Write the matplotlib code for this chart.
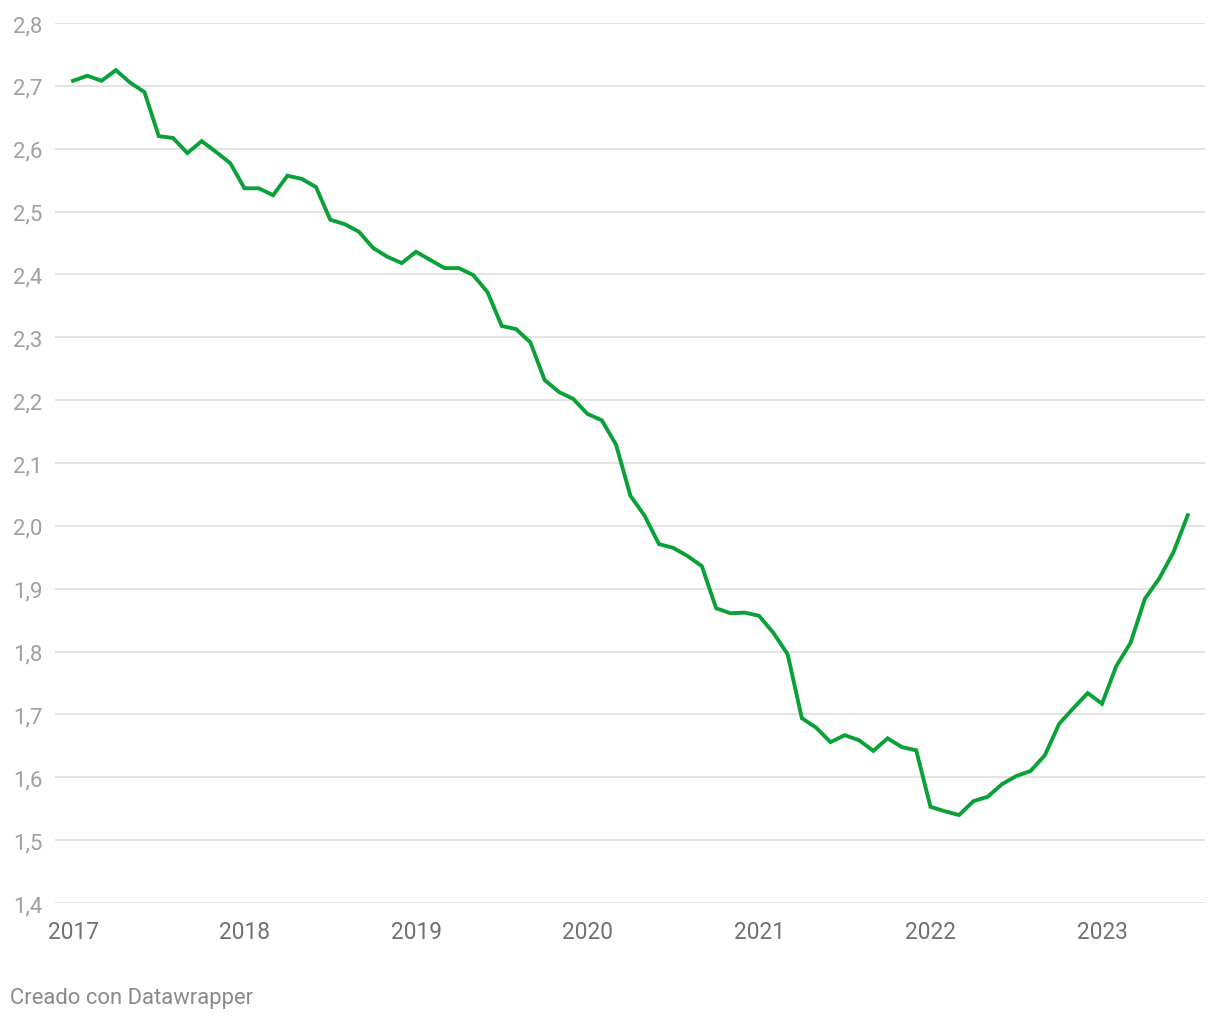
import numpy as np
import matplotlib
matplotlib.use('Agg')
import matplotlib.pyplot as plt
from matplotlib.ticker import FuncFormatter

matplotlib.rcParams['font.family'] = ['Roboto', 'DejaVu Sans']

# Monthly values, Jan 2017 .. Jul 2023
start_year = 2017
values = [
    2.708, 2.716, 2.708, 2.725, 2.705, 2.690, 2.620, 2.617, 2.593, 2.612, 2.595, 2.577,  # 2017
    2.537, 2.537, 2.526, 2.557, 2.552, 2.539, 2.487, 2.480, 2.468, 2.442, 2.428, 2.418,  # 2018
    2.436, 2.423, 2.410, 2.410, 2.399, 2.372, 2.318, 2.313, 2.292, 2.232, 2.213, 2.202,  # 2019
    2.178, 2.168, 2.129, 2.048, 2.016, 1.971, 1.965, 1.952, 1.936, 1.869, 1.861, 1.862,  # 2020
    1.857, 1.830, 1.796, 1.694, 1.679, 1.656, 1.667, 1.659, 1.642, 1.662, 1.648, 1.643,  # 2021
    1.553, 1.546, 1.540, 1.562, 1.569, 1.589, 1.602, 1.610, 1.635, 1.685, 1.710, 1.734,  # 2022
    1.717, 1.777, 1.814, 1.884, 1.916, 1.958, 2.017,                                      # 2023
]
year_ticks = [2017, 2018, 2019, 2020, 2021, 2022, 2023]
y_ticks = [1.4, 1.5, 1.6, 1.7, 1.8, 1.9, 2.0, 2.1, 2.2, 2.3, 2.4, 2.5, 2.6, 2.7, 2.8]

x = start_year + np.arange(len(values)) / 12.0

fig = plt.figure(figsize=(12.2, 10.2), dpi=100)
ax = fig.add_axes([0.0451, 0.1137, 0.9426, 0.8628])

ax.plot(x, values, color='#0aa138', lw=2.8, solid_joinstyle='miter', zorder=3)

ax.set_ylim(1.4, 2.8)
ax.set_xlim(2017 - 18 / 171.5, 2017 + 1132 / 171.5)
ax.set_yticks(y_ticks)
ax.set_xticks(year_ticks)
ax.yaxis.set_major_formatter(FuncFormatter(lambda v, p: f'{v:.1f}'.replace('.', ',')))
ax.grid(axis='y', color='#e1e1e1', lw=1.3)
ax.set_axisbelow(True)
for s in ax.spines.values():
    s.set_visible(False)

ax.tick_params(axis='y', length=0, pad=9, labelsize=16, labelcolor='#a0a0a0')
ax.tick_params(axis='x', length=0, pad=12, labelsize=16.3, labelcolor='#707070')

fig.text(10 / 1220, 1 - 999 / 1020, 'Creado con Datawrapper', fontsize=15.8,
         color='#8a8a8a', ha='left', va='center')

fig.savefig('out.png', dpi=100)
